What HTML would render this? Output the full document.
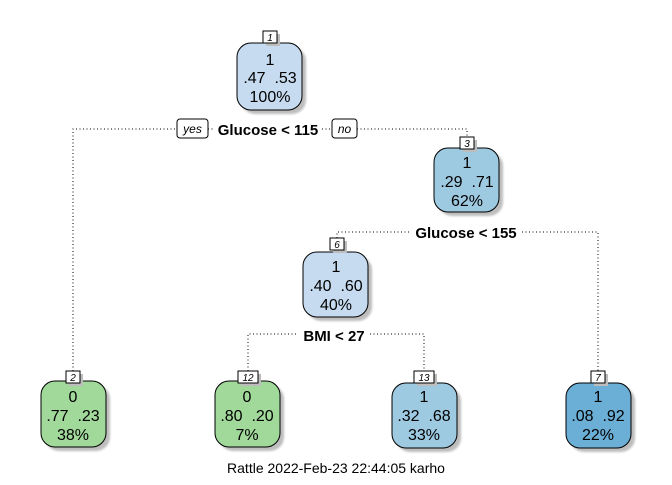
<!DOCTYPE html>
<html><head><meta charset="utf-8"><style>
html,body{margin:0;padding:0;background:#fff;}
svg text{font-family:"Liberation Sans",Arial,sans-serif;}
</style></head><body>
<svg width="672" height="480" viewBox="0 0 672 480" xmlns="http://www.w3.org/2000/svg">
<g fill="none" stroke="#000" stroke-width="1" stroke-dasharray="1,2.5">
<path d="M73,371 V129 H177 M208,129 H213 M322,129 H332 M357,129 H467 V137"/>
<path d="M337,238 V232 H410 M522,232 H598 V371"/>
<path d="M248,371 V334 H298 M370,334 H424 V371"/>
</g>
<defs>
<filter id="s" x="-20%" y="-20%" width="150%" height="150%"><feGaussianBlur stdDeviation="1"/></filter>
</defs>
<g font-size="16" text-anchor="middle">
<g>
<rect x="241" y="47" width="65" height="67" rx="14" fill="#bdbdbd" filter="url(#s)"/>
<rect x="237" y="43" width="65" height="67" rx="14" fill="#c6dbef" stroke="#000"/>
<rect x="266" y="34" width="14" height="12" fill="#bdbdbd"/><rect x="263" y="31" width="14" height="12" fill="#fff" stroke="#000"/>
<text x="270" y="41" font-size="10" font-style="italic">1</text>
<text x="270" y="65">1</text><text x="270" y="83">.47&#160;&#160;.53</text><text x="270" y="102">100%</text>
</g>
<g>
<rect x="438" y="152" width="65" height="64" rx="14" fill="#bdbdbd" filter="url(#s)"/>
<rect x="434" y="148" width="65" height="64" rx="14" fill="#9ecae1" stroke="#000"/>
<rect x="463" y="140" width="14" height="12" fill="#bdbdbd"/><rect x="460" y="137" width="14" height="12" fill="#fff" stroke="#000"/>
<text x="467" y="147" font-size="10" font-style="italic">3</text>
<text x="467" y="168">1</text><text x="467" y="187">.29&#160;&#160;.71</text><text x="467" y="206">62%</text>
</g>
<g>
<rect x="307" y="256" width="65" height="65" rx="14" fill="#bdbdbd" filter="url(#s)"/>
<rect x="303" y="252" width="65" height="65" rx="14" fill="#c6dbef" stroke="#000"/>
<rect x="333" y="241" width="14" height="12" fill="#bdbdbd"/><rect x="330" y="238" width="14" height="12" fill="#fff" stroke="#000"/>
<text x="337" y="248" font-size="10" font-style="italic">6</text>
<text x="336" y="272">1</text><text x="336" y="291">.40&#160;&#160;.60</text><text x="336" y="310">40%</text>
</g>
<g>
<rect x="45" y="385" width="65" height="66" rx="14" fill="#bdbdbd" filter="url(#s)"/>
<rect x="41" y="381" width="65" height="66" rx="14" fill="#a1d99b" stroke="#000"/>
<rect x="69" y="374" width="14" height="12" fill="#bdbdbd"/><rect x="66" y="371" width="14" height="12" fill="#fff" stroke="#000"/>
<text x="73" y="381" font-size="10" font-style="italic">2</text>
<text x="73" y="402">0</text><text x="73" y="421">.77&#160;&#160;.23</text><text x="73" y="440">38%</text>
</g>
<g>
<rect x="219" y="385" width="65" height="66" rx="14" fill="#bdbdbd" filter="url(#s)"/>
<rect x="215" y="381" width="65" height="66" rx="14" fill="#a1d99b" stroke="#000"/>
<rect x="241" y="374" width="20" height="12" fill="#bdbdbd"/><rect x="238" y="371" width="20" height="12" fill="#fff" stroke="#000"/>
<text x="248" y="381" font-size="10" font-style="italic">12</text>
<text x="247" y="402">0</text><text x="247" y="421">.80&#160;&#160;.20</text><text x="247" y="440">7%</text>
</g>
<g>
<rect x="396" y="387" width="65" height="65" rx="14" fill="#bdbdbd" filter="url(#s)"/>
<rect x="392" y="383" width="65" height="65" rx="14" fill="#9ecae1" stroke="#000"/>
<rect x="417" y="374" width="20" height="12" fill="#bdbdbd"/><rect x="414" y="371" width="20" height="12" fill="#fff" stroke="#000"/>
<text x="424" y="381" font-size="10" font-style="italic">13</text>
<text x="424" y="402">1</text><text x="424" y="421">.32&#160;&#160;.68</text><text x="424" y="440">33%</text>
</g>
<g>
<rect x="570" y="387" width="65" height="65" rx="14" fill="#bdbdbd" filter="url(#s)"/>
<rect x="566" y="383" width="65" height="65" rx="14" fill="#6baed6" stroke="#000"/>
<rect x="594" y="374" width="14" height="12" fill="#bdbdbd"/><rect x="591" y="371" width="14" height="12" fill="#fff" stroke="#000"/>
<text x="598" y="381" font-size="10" font-style="italic">7</text>
<text x="598" y="402">1</text><text x="598" y="421">.08&#160;&#160;.92</text><text x="598" y="440">22%</text>
</g>
</g>
<rect x="177" y="119" width="31" height="19" rx="3" fill="#fff" stroke="#000"/>
<text x="192.5" y="133" font-size="12" font-style="italic" text-anchor="middle">yes</text>
<rect x="332" y="119" width="25" height="19" rx="3" fill="#fff" stroke="#000"/>
<text x="344.5" y="133" font-size="12" font-style="italic" text-anchor="middle">no</text>
<g font-size="15" font-weight="bold" text-anchor="middle">
<text x="268" y="135">Glucose &lt; 115</text>
<text x="466" y="238">Glucose &lt; 155</text>
<text x="334" y="341">BMI &lt; 27</text>
</g>
<text x="336" y="473" font-size="14" text-anchor="middle">Rattle 2022-Feb-23 22:44:05 karho</text>
</svg>
</body></html>
